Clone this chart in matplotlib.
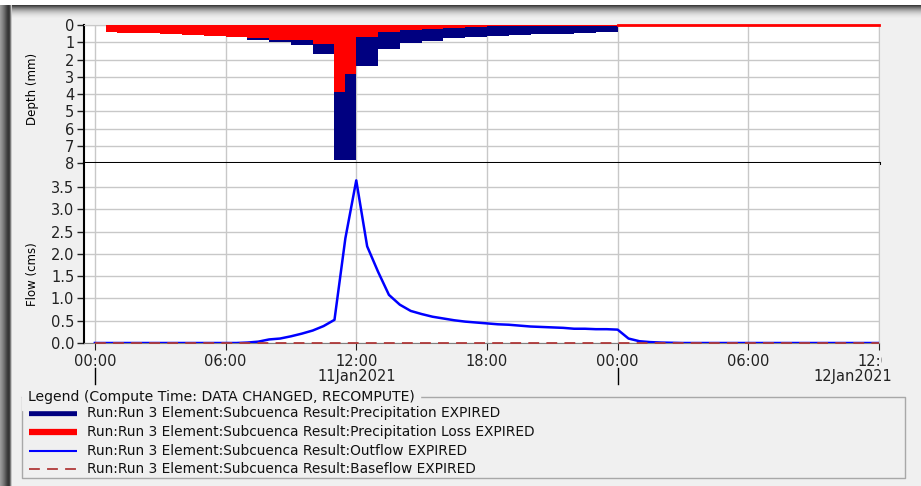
import numpy as np
import matplotlib
matplotlib.use("Agg")
import matplotlib.pyplot as plt
from matplotlib.patches import Rectangle
from matplotlib.transforms import Bbox, TransformedBbox

plt.rcParams['font.family'] = ['DejaVu Sans']

# times are hours after 11Jan2021 00:00
bar_edges = [0.5, 1, 2, 3, 4, 5, 6, 7, 8, 9, 10, 11, 11.5, 12,
             13, 14, 15, 16, 17, 18, 19, 20, 21, 22, 23, 24]
precip = [0.42, 0.45, 0.48, 0.52, 0.56, 0.62, 0.70, 0.85, 1.00, 1.16, 1.68, 7.8, 7.8,
          2.36, 1.40, 1.04, 0.90, 0.75, 0.67, 0.63, 0.58, 0.53, 0.50, 0.46, 0.43]
loss = [0.42, 0.45, 0.48, 0.52, 0.56, 0.62, 0.68, 0.75, 0.85, 0.87, 1.08, 3.9, 2.85,
        0.72, 0.43, 0.29, 0.21, 0.15, 0.11, 0.08, 0.07, 0.06, 0.05, 0.05, 0.04]
loss_tail_t = [24, 36]
loss_tail = [0, 0]

flow_t = [0, 6.5, 7, 7.5, 8, 8.5, 9, 9.5, 10, 10.5, 11, 11.5, 12, 12.5, 13, 13.5,
          14, 14.5, 15, 15.5, 16, 16.5, 17, 17.5, 18, 18.5, 19, 19.5, 20, 20.5,
          21, 21.5, 22, 22.5, 23, 23.5, 24, 24.5, 25, 25.5, 26, 27, 36]
flow = [0, 0, 0.01, 0.03, 0.08, 0.10, 0.15, 0.21, 0.28, 0.38, 0.52, 2.35, 3.65, 2.17,
        1.60, 1.08, 0.86, 0.72, 0.65, 0.59, 0.55, 0.51, 0.48, 0.46, 0.44, 0.42,
        0.41, 0.39, 0.37, 0.36, 0.35, 0.34, 0.32, 0.32, 0.31, 0.31, 0.30, 0.10,
        0.04, 0.02, 0.01, 0, 0]
base_t = [0, 36]
baseflow = [0, 0]

time_ticks = [0, 6, 12, 18, 24, 30, 36]
time_labels = ["00:00", "06:00", "12:00", "18:00", "00:00", "06:00", "12:00"]
day_starts = [0, 24]
day_labels = ["11Jan2021", "12Jan2021"]

legend_title = "Legend (Compute Time: DATA CHANGED, RECOMPUTE)"
legend_labels = ["Run:Run 3 Element:Subcuenca Result:Precipitation EXPIRED",
                 "Run:Run 3 Element:Subcuenca Result:Precipitation Loss EXPIRED",
                 "Run:Run 3 Element:Subcuenca Result:Outflow EXPIRED",
                 "Run:Run 3 Element:Subcuenca Result:Baseflow EXPIRED"]

C_PRECIP = "#000080"
C_LOSS = "#ff0000"
C_FLOW = "#0000ff"
C_BASE = "#b03a3a"
GRID = "#c8c8c8"
W, H = 921, 486

fig = plt.figure(figsize=(W / 100, H / 100), dpi=100, facecolor="#f0f0f0")

# window frame look, in pixel coordinates (y down)
bg = fig.add_axes([0, 0, 1, 1], zorder=-10)
bg.axis("off")
bg.set_xlim(0, W)
bg.set_ylim(H, 0)
top_shade = ["#ffffff"] * 5 + ["#3c3c3c", "#555555", "#6e6e6e", "#858585", "#9a9a9a",
                               "#acacac", "#bcbcbc", "#c9c9c9", "#d4d4d4", "#dddddd",
                               "#e4e4e4", "#e9e9e9", "#eded ed".replace(" ", ""), "#f0f0f0"]
for i, c in enumerate(top_shade):
    bg.add_patch(Rectangle((0, i), W, 1, color=c, lw=0))
left_shade = ["#9a9a9a", "#909090", "#858585", "#787878", "#6a6a6a", "#5a5a5a",
              "#4a4a4a", "#3c3c3c", "#353535", "#404040", "#7a7a7a", "#c8c8c8"]
for i, c in enumerate(left_shade):
    bg.add_patch(Rectangle((i, 5), 1, H - 5, color=c, lw=0))

x0 = 84 / W
wid = (879 - 84) / W
ax1 = fig.add_axes([x0, 1 - 163 / H, wid, (163 - 25) / H])
ax2 = fig.add_axes([x0, 1 - 343 / H, wid, (343 - 163) / H])

# hyetograph
ax1.stairs(precip, bar_edges, fill=True, color=C_PRECIP, baseline=0, zorder=3)
ax1.stairs(loss, bar_edges, fill=True, color=C_LOSS, baseline=0, zorder=4)
ax1.plot(loss_tail_t, loss_tail, color=C_LOSS, lw=2, clip_on=False, zorder=5)
ax1.set_ylim(8, 0)
ax1.set_yticks(range(9))
ax1.set_ylabel("Depth (mm)", fontsize=8.5)
ax1.yaxis.set_label_coords(-0.057, 0.536)

# hydrograph
ax2.plot(flow_t, flow, color=C_FLOW, lw=1.8, zorder=4)
ax2.plot(base_t, baseflow, color=C_BASE, lw=1.3, dashes=(6, 4), zorder=5, clip_on=False)
ax2.set_ylim(0, 4.04)
ax2.set_yticks(np.arange(0, 3.6, 0.5))
ax2.set_yticklabels([f"{v:.1f}" for v in np.arange(0, 3.6, 0.5)])
ax2.set_ylabel("Flow (cms)", fontsize=8.5)
ax2.yaxis.set_label_coords(-0.057, 0.383)

for ax in (ax1, ax2):
    ax.set_xlim(-0.5, 36)
    ax.set_xticks(time_ticks)
    ax.grid(True, color=GRID, lw=1)
    ax.set_axisbelow(True)
    ax.tick_params(axis="y", labelsize=10.5, length=5, width=1, colors="#222222", pad=2)
    ax.spines["left"].set_color("black")
    ax.spines["left"].set_linewidth(1.5)
    ax.spines["right"].set_color(GRID)
    ax.spines["top"].set_color(GRID)

ax1.tick_params(axis="x", length=0, labelbottom=False)
ax1.spines["bottom"].set_color("black")
ax1.spines["bottom"].set_linewidth(2.2)
ax2.spines["top"].set_visible(False)
ax2.spines["bottom"].set_color("#808080")
ax2.set_xticklabels(time_labels)
ax2.tick_params(axis="x", labelsize=10.5, length=5, colors="#222222", pad=3)

# cut the last time label at the plot's right edge like the original
clip = TransformedBbox(Bbox([[0, 0], [882 / W, 1]]), fig.transFigure)
for lbl in ax2.get_xticklabels():
    lbl.set_clip_box(clip)
    lbl.set_clip_on(True)

# day row under the time labels
tr = ax2.get_xaxis_transform()
for d in day_starts:
    ax2.plot([d, d], [-0.14, -0.225], transform=tr, color="black", lw=1, clip_on=False)
ax2.text(12, -0.185, day_labels[0], transform=tr, ha="center", va="center",
         fontsize=10.5, color="#222222")
ax2.text(36.6, -0.185, day_labels[1], transform=tr, ha="right", va="center",
         fontsize=10.5, color="#222222")

# legend group box
bg.plot([22, 905, 905, 22, 22], [397, 397, 478, 478, 397], color="#a8a8a8", lw=1)
bg.text(28, 397, legend_title, fontsize=10.1, va="center", ha="left",
        color="#111111", backgroundcolor="#f0f0f0")
styles = [dict(color=C_PRECIP, lw=4.5), dict(color=C_LOSS, lw=4.5),
          dict(color=C_FLOW, lw=1.5), dict(color=C_BASE, lw=1.3, dashes=(6, 4))]
rows = [413, 432, 451, 469]
for lab, st, yy in zip(legend_labels, styles, rows):
    bg.plot([29, 77], [yy, yy], solid_capstyle="butt", **st)
    bg.text(87, yy, lab, fontsize=9.9, va="center", ha="left", color="#111111")

fig.savefig("out.png", dpi=100, facecolor=fig.get_facecolor())
